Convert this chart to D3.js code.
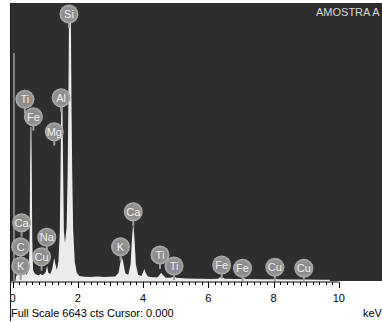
<!DOCTYPE html>
<html>
<head>
<meta charset="utf-8">
<script src="https://cdn.jsdelivr.net/npm/d3@7"></script>
<style>
  body { margin: 0; background: #fff; }
  svg { display: block; font-family: "Liberation Sans", Arial, sans-serif; }
</style>
</head>
<body>
<div id="chart"></div>
<script>
const width = 382;
const height = 322;
const fullScale = 6643;

// spectrum outline: [keV, counts]
const spectrum = [
  [0.00, 0], [0.09, 0], [0.11, 110], [0.15, 170], [0.19, 260], [0.22, 160], [0.25, 300], [0.28, 180],
  [0.31, 240], [0.34, 160], [0.38, 200], [0.42, 150], [0.46, 190], [0.50, 260],
  [0.525, 1000], [0.54, 2700], [0.552, 3680], [0.578, 3680], [0.59, 2700], [0.605, 1000], [0.63, 260],
  [0.68, 180], [0.74, 150], [0.80, 140], [0.86, 170], [0.92, 140], [0.97, 170],
  [1.02, 220], [1.06, 360], [1.10, 200], [1.16, 170], [1.22, 300], [1.26, 480], [1.28, 550],
  [1.31, 420], [1.36, 260], [1.41, 480],
  [1.45, 1200], [1.475, 2800], [1.495, 4250], [1.53, 4250], [1.55, 2800], [1.575, 1200], [1.61, 900],
  [1.66, 1300], [1.69, 2600], [1.712, 4200], [1.73, 6200], [1.742, 6600], [1.778, 6600],
  [1.79, 6200], [1.808, 4200], [1.83, 2600], [1.86, 1200], [1.91, 450], [1.97, 200], [2.05, 120],
  [2.2, 100], [2.4, 95], [2.6, 105], [2.8, 95], [3.0, 100], [3.15, 110], [3.25, 200],
  [3.30, 420], [3.35, 600], [3.40, 420], [3.46, 180], [3.55, 150],
  [3.62, 400], [3.66, 1000], [3.70, 1400], [3.74, 1000], [3.78, 400], [3.85, 150],
  [3.95, 120], [4.01, 220], [4.04, 290], [4.08, 200], [4.15, 110], [4.3, 90], [4.45, 90],
  [4.52, 160], [4.56, 200], [4.60, 150], [4.7, 80], [4.85, 75], [4.95, 110], [5.02, 75],
  [5.3, 60], [5.7, 55], [6.1, 50], [6.3, 55], [6.40, 110], [6.50, 55], [6.8, 45], [7.0, 50],
  [7.08, 70], [7.15, 45], [7.6, 40], [8.0, 40], [8.06, 55], [8.12, 40], [8.6, 35], [9.0, 35],
  [9.5, 30], [9.72, 30], [9.73, 0]
];

// zero-energy noise peak (drawn grey)
const zeroPeak = { kev: 0.046, counts: 5450 };

// element markers
const markerNames  = ["Si", "Ti", "Al", "Fe", "Mg", "Ca", "C", "K", "Na", "Cu", "K", "Ca", "Ti", "Ti", "Fe", "Fe", "Cu", "Cu"];
const markerKeV    = [1.73, 0.38, 1.49, 0.64, 1.28, 0.28, 0.25, 0.25, 1.05, 0.89, 3.31, 3.70, 4.52, 4.95, 6.41, 7.05, 8.04, 8.93];
const markerCounts = [6381, 4343, 4381, 3927, 3568, 1393, 820, 358, 1044, 581, 820, 1656, 621, 358, 382, 304, 327, 304];

const xTicks = [0, 2, 4, 6, 8, 10];

const svg = d3.select("#chart")
    .append("svg")
    .attr("width", width)
    .attr("height", height);

const x = d3.scaleLinear().domain([0, 10]).range([12.5, 338.8]);
const y = d3.scaleLinear().domain([0, fullScale]).range([281, 3]);

const defs = svg.append("defs");
defs.append("clipPath").attr("id", "plot-clip")
    .append("rect").attr("x", 11).attr("y", 3).attr("width", width - 11).attr("height", 278);
defs.append("clipPath").attr("id", "axis-clip")
    .append("rect").attr("x", 11).attr("y", 281).attr("width", width - 11).attr("height", 41);

const grad = defs.append("radialGradient").attr("id", "ball");
grad.append("stop").attr("offset", "0%").attr("stop-color", "#8a8a8a");
grad.append("stop").attr("offset", "70%").attr("stop-color", "#8e8e8e");
grad.append("stop").attr("offset", "100%").attr("stop-color", "#b2b2b2");

// dark plot background
svg.append("rect")
    .attr("x", 10).attr("y", 3)
    .attr("width", width - 10).attr("height", 278)
    .attr("fill", "#2e2e2e");

const plot = svg.append("g").attr("clip-path", "url(#plot-clip)");

plot.append("line")
    .attr("x1", x(zeroPeak.kev)).attr("x2", x(zeroPeak.kev))
    .attr("y1", y(0)).attr("y2", y(zeroPeak.counts))
    .attr("stroke", "#9a9a9a")
    .attr("stroke-width", 1.5);

const area = d3.area()
    .x(d => x(d[0]))
    .y0(y(0))
    .y1(d => y(d[1]));

plot.append("path")
    .datum(spectrum)
    .attr("d", area)
    .attr("fill", "#ececec");

// element labels
const markers = plot.selectAll("g.marker")
    .data(markerNames.map((n, i) => ({ name: n, kev: markerKeV[i], counts: markerCounts[i] })))
    .enter().append("g")
    .attr("class", "marker")
    .attr("transform", d => `translate(${x(d.kev)},${y(d.counts)})`);

markers.append("line")
    .attr("y1", 8).attr("y2", 14)
    .attr("stroke", "#9c9c9c")
    .attr("stroke-width", 2);

markers.append("circle")
    .attr("r", 9.5)
    .attr("fill", "url(#ball)");

markers.append("text")
    .attr("text-anchor", "middle")
    .attr("dy", "0.36em")
    .attr("font-size", 11)
    .attr("fill", "#f2f2f2")
    .text(d => d.name);

plot.append("text")
    .attr("x", 316).attr("y", 16)
    .attr("font-size", 11)
    .attr("fill", "#d8d8d8")
    .text("AMOSTRA A");

// axis
const axis = svg.append("g").attr("clip-path", "url(#axis-clip)");
axis.append("line")
    .attr("x1", 10).attr("x2", x(10))
    .attr("y1", 282).attr("y2", 282)
    .attr("stroke", "#000");

const minor = d3.range(0, 10.001, 0.2);
axis.selectAll("line.tick")
    .data(minor)
    .enter().append("line")
    .attr("class", "tick")
    .attr("x1", d => Math.round(x(d)) + 0.5).attr("x2", d => Math.round(x(d)) + 0.5)
    .attr("y1", 282)
    .attr("y2", d => Math.abs(d % 2) < 0.01 || Math.abs(d % 2 - 2) < 0.01 ? 288 : (Math.abs(d - Math.round(d)) < 0.01 ? 286 : 285))
    .attr("stroke", "#000");

axis.selectAll("text.tl")
    .data(xTicks)
    .enter().append("text")
    .attr("class", "tl")
    .attr("x", d => x(d))
    .attr("y", 302)
    .attr("text-anchor", "middle")
    .attr("font-size", 11)
    .attr("fill", "#000")
    .text(d => d);

// frame line on the left
svg.append("line")
    .attr("x1", 10.5).attr("x2", 10.5)
    .attr("y1", 3).attr("y2", 321)
    .attr("stroke", "#1a1a1a");

svg.append("text")
    .attr("x", 11).attr("y", 317)
    .attr("font-size", 11)
    .text("Full Scale 6643 cts Cursor: 0.000");

svg.append("text")
    .attr("x", 363).attr("y", 317)
    .attr("font-size", 11)
    .text("keV");
</script>
</body>
</html>
